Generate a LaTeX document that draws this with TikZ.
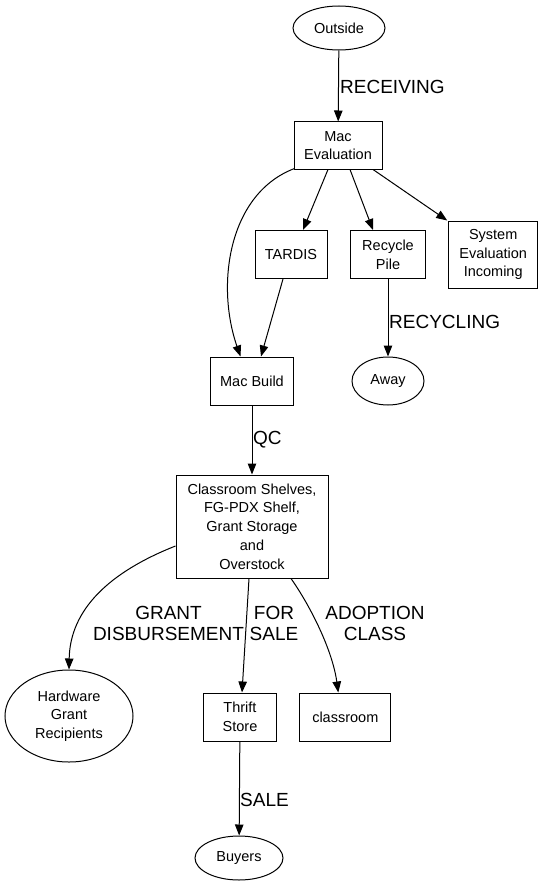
\documentclass[tikz,border=0pt]{standalone}
\usepackage{fontspec}
\setmainfont{Liberation Sans}
\usetikzlibrary{arrows.meta,shapes.geometric}
\begin{document}
\begin{tikzpicture}[x=1pt,y=-1pt,
  every node/.style={font=\fontsize{14.5}{18.7}\selectfont, align=center},
  boxnode/.style={draw, line width=1pt, rectangle, inner sep=0pt},
  ellnode/.style={draw, line width=1pt, ellipse, inner sep=0pt},
  edgelabel/.style={font=\fontsize{19}{21.3}\selectfont, inner sep=0pt, align=center},
  conn/.style={line width=1pt, -{Triangle[length=11pt,width=8.5pt]}}
]
\useasboundingbox (0,0) rectangle (543,888);
% nodes
\node[ellnode, minimum width=92pt, minimum height=44pt] (ou) at (339,28) {Outside};
\node[boxnode, minimum width=88pt, minimum height=47pt] (me) at (338,145.5) {Mac\\Evaluation};
\node[boxnode, minimum width=72pt, minimum height=48pt] (ta) at (291,254.5) {TARDIS};
\node[boxnode, minimum width=75pt, minimum height=48pt] (rp) at (388,254.5) {Recycle\\Pile};
\node[boxnode, minimum width=89pt, minimum height=67pt] (sy) at (493.2,254.5) {System\\Evaluation\\Incoming};
\node[boxnode, minimum width=83pt, minimum height=48pt] (mb) at (252,381) {Mac Build};
\node[ellnode, minimum width=72pt, minimum height=48pt] (aw) at (388,381) {Away};
\node[boxnode, minimum width=152pt, minimum height=103pt] (cs) at (252,526.5) {Classroom Shelves,\\FG-PDX Shelf,\\Grant Storage\\and\\Overstock};
\node[ellnode, minimum width=128pt, minimum height=92pt] (hw) at (69,716) {Hardware\\Grant\\Recipients};
\node[boxnode, minimum width=72.5pt, minimum height=48pt] (th) at (240,717) {Thrift\\Store};
\node[boxnode, minimum width=91pt, minimum height=48pt] (cl) at (345.3,717) {classroom};
\node[ellnode, minimum width=88pt, minimum height=44pt] (bu) at (239,858) {Buyers};
% connectors
\draw[conn] (ou) -- (me);
\draw[conn] ([xshift=1pt,yshift=1pt]me.south west) .. controls +(-66,25) and +(-25,-72) .. ([xshift=-11.5pt]mb.north);
\draw[conn] ([xshift=-10pt]me.south) -- ([xshift=12pt]ta.north);
\draw[conn] ([xshift=12pt]me.south) -- ([xshift=-15pt]rp.north);
\draw[conn] ([xshift=35pt]me.south) -- ([xshift=-1pt]sy.north west);
\draw[conn] ([xshift=-8pt]ta.south) -- ([xshift=9pt]mb.north);
\draw[conn] (rp) -- (aw);
\draw[conn] (mb) -- (cs);
\draw[conn] ([yshift=-19.5pt]cs.west) .. controls +(-66,26) and +(1,-60) .. (hw.north);
\draw[conn] ([xshift=-3pt]cs.south) -- ([xshift=2pt]th.north);
\draw[conn] ([xshift=39pt]cs.south) .. controls +(19,27) and +(-6,-43) .. ([xshift=-7pt]cl.north);
\draw[conn] (th) -- (bu);
% labels
\node[edgelabel, anchor=west] (l1) at (340,87) {RECEIVING};
\node[edgelabel, anchor=west] (l2) at (389,322) {RECYCLING};
\node[edgelabel, anchor=west] (l3) at (253,440) {QC};
\node[edgelabel] (l4) at (168.5,623.5) {GRANT\\DISBURSEMENT};
\node[edgelabel] (l5) at (274,623.5) {FOR\\SALE};
\node[edgelabel] (l6) at (375,623.5) {ADOPTION\\CLASS};
\node[edgelabel, anchor=west] (l7) at (240,800) {SALE};
\end{tikzpicture}
\end{document}
